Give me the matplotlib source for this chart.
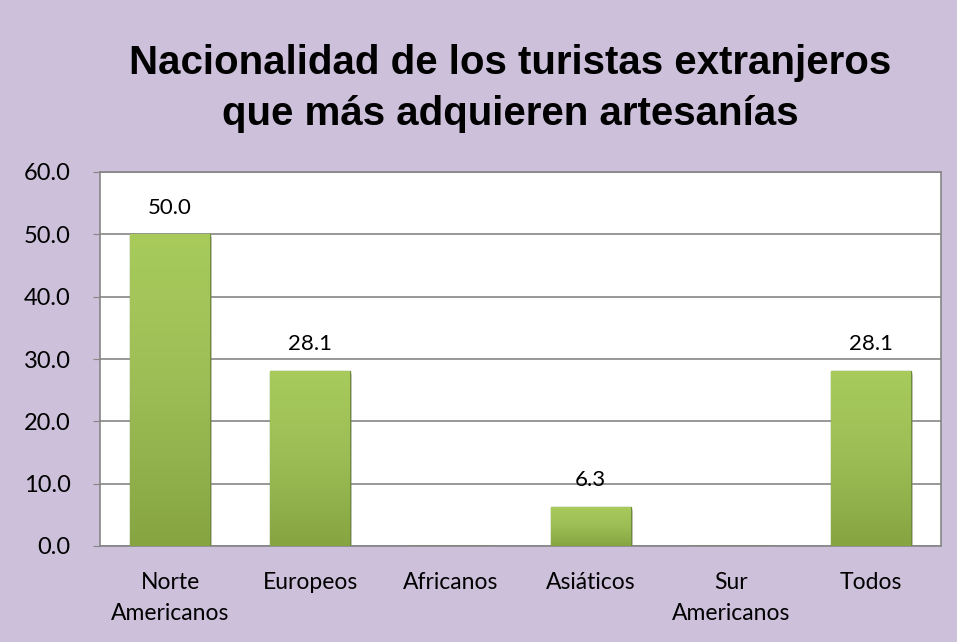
import numpy as np
import matplotlib.pyplot as plt
from matplotlib.colors import LinearSegmentedColormap

# datos del gráfico
categorias = ['Norte\nAmericanos', 'Europeos', 'Africanos', 'Asiáticos', 'Sur\nAmericanos', 'Todos']
porcentajes = [50.0, 28.1, 0, 6.3, 0, 28.1]
ticks_y = [0, 10, 20, 30, 40, 50, 60]

fondo = '#ccc0da'
verde = '#9bbb59'
degradado = LinearSegmentedColormap.from_list('bisel', ['#86a542', '#9cbd55', '#a8cb5c'])

fig = plt.figure(figsize=(9.57, 6.42), dpi=100, facecolor=fondo)
ax = fig.add_axes([100 / 957, 96 / 642, 841 / 957, 374 / 642])
ax.set_facecolor('white')

x = list(range(len(categorias)))
ancho = 0.57
# sombra ligera bajo las barras
ax.bar([i + 0.015 for i in x], porcentajes, width=ancho, bottom=-0.5,
       color='#7f7f7f', alpha=0.35, zorder=2, linewidth=0)
barras = ax.bar(x, porcentajes, width=ancho, color=verde,
                edgecolor='#6f8a38', linewidth=1.0, zorder=3)
# degradado vertical dentro de cada barra
grad = np.linspace(0, 1, 256).reshape(-1, 1)
for b, v in zip(barras, porcentajes):
    if v > 0:
        im = ax.imshow(grad, cmap=degradado, origin='lower', aspect='auto',
                       extent=[b.get_x(), b.get_x() + b.get_width(), 0, v], zorder=3.5)
        im.set_clip_path(b)

for i, v in zip(x, porcentajes):
    if v > 0:
        ax.annotate(f'{v:.1f}', (i, v), xytext=(0, 12), textcoords='offset points',
                    ha='center', va='bottom', fontsize=16, family='Lato')

ax.set_xlim(-0.5, len(categorias) - 0.5)
ax.set_ylim(0, 60)
ax.set_yticks(ticks_y)
ax.set_yticklabels([f'{t:.1f}' for t in ticks_y], fontsize=17, family='Lato')
ax.set_xticks(x)
ax.set_xticklabels(categorias, fontsize=16.5, family='Lato', linespacing=1.55)
ax.tick_params(axis='x', length=0, pad=19)
ax.tick_params(axis='y', length=5, color='#868686', pad=16)

ax.grid(axis='y', color='#868686', linewidth=1.2, zorder=1)
ax.set_axisbelow(True)
for s in ax.spines.values():
    s.set_color('#868686')
    s.set_linewidth(1.2)

fig.text(0.533, 0.932, 'Nacionalidad de los turistas extranjeros\nque más adquieren artesanías',
         ha='center', va='top', fontsize=29, fontweight='bold', family='Liberation Sans',
         linespacing=1.43)

fig.savefig('out.png', dpi=100, facecolor=fondo)
